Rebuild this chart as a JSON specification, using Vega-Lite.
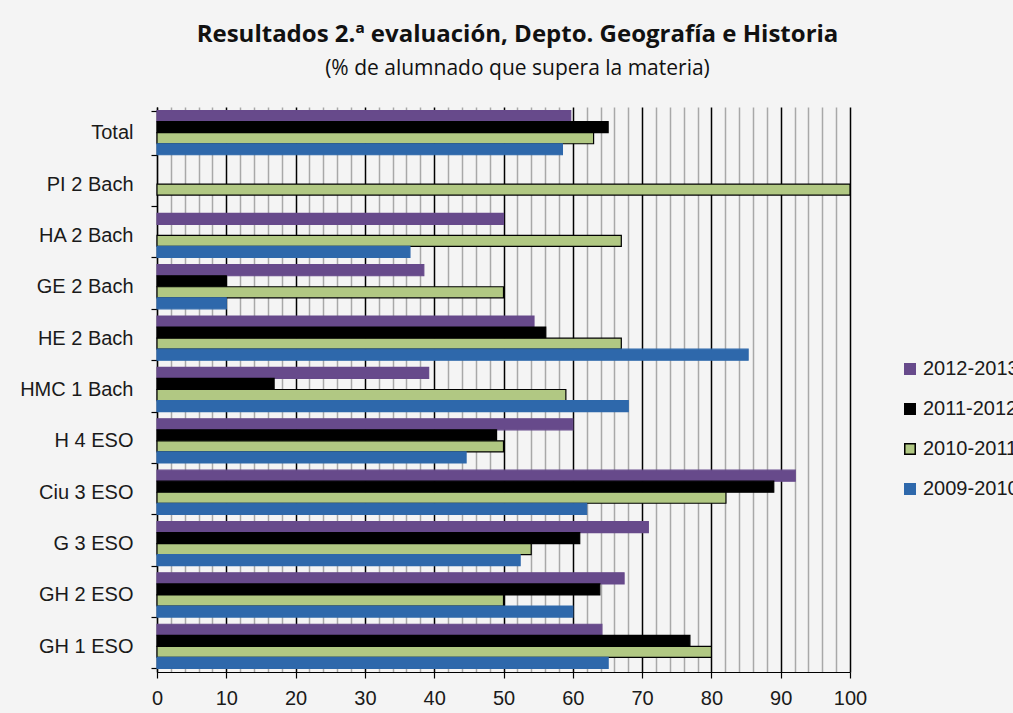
{
  "$schema": "https://vega.github.io/schema/vega-lite/v6.json",
  "autosize": "none",
  "width": 693,
  "height": 565,
  "padding": {"left": 157, "top": 107, "right": 163, "bottom": 41},
  "background": "#f4f4f4",
  "config": {"view": {"stroke": null}, "font": "Liberation Sans"},
  "title": {
    "text": "Resultados 2.ª  evaluación, Depto. Geografía e Historia",
    "subtitle": "(% de alumnado que supera la materia)",
    "anchor": "middle",
    "frame": "group",
    "dx": 14,
    "offset": 18,
    "font": "Open Sans",
    "fontSize": 24,
    "fontWeight": "bold",
    "color": "#111",
    "subtitleFont": "Open Sans",
    "subtitleFontSize": 21,
    "subtitleColor": "#111",
    "subtitlePadding": 11
  },
  "data": {
    "values": [
      {"cat": "Total", "serie": "2012-2013", "v": 59.7},
      {"cat": "Total", "serie": "2011-2012", "v": 65.1},
      {"cat": "Total", "serie": "2010-2011", "v": 63.0},
      {"cat": "Total", "serie": "2009-2010", "v": 58.5},
      {"cat": "PI 2 Bach", "serie": "2010-2011", "v": 100},
      {"cat": "HA 2 Bach", "serie": "2012-2013", "v": 50.0},
      {"cat": "HA 2 Bach", "serie": "2010-2011", "v": 67.0},
      {"cat": "HA 2 Bach", "serie": "2009-2010", "v": 36.5},
      {"cat": "GE 2 Bach", "serie": "2012-2013", "v": 38.5},
      {"cat": "GE 2 Bach", "serie": "2011-2012", "v": 10.0},
      {"cat": "GE 2 Bach", "serie": "2010-2011", "v": 50.0},
      {"cat": "GE 2 Bach", "serie": "2009-2010", "v": 10.0},
      {"cat": "HE 2 Bach", "serie": "2012-2013", "v": 54.4},
      {"cat": "HE 2 Bach", "serie": "2011-2012", "v": 56.1},
      {"cat": "HE 2 Bach", "serie": "2010-2011", "v": 67.0},
      {"cat": "HE 2 Bach", "serie": "2009-2010", "v": 85.3},
      {"cat": "HMC 1 Bach", "serie": "2012-2013", "v": 39.2},
      {"cat": "HMC 1 Bach", "serie": "2011-2012", "v": 16.9},
      {"cat": "HMC 1 Bach", "serie": "2010-2011", "v": 59.0},
      {"cat": "HMC 1 Bach", "serie": "2009-2010", "v": 68.0},
      {"cat": "H 4 ESO", "serie": "2012-2013", "v": 60.0},
      {"cat": "H 4 ESO", "serie": "2011-2012", "v": 49.0},
      {"cat": "H 4 ESO", "serie": "2010-2011", "v": 50.0},
      {"cat": "H 4 ESO", "serie": "2009-2010", "v": 44.6},
      {"cat": "Ciu 3 ESO", "serie": "2012-2013", "v": 92.1},
      {"cat": "Ciu 3 ESO", "serie": "2011-2012", "v": 89.0},
      {"cat": "Ciu 3 ESO", "serie": "2010-2011", "v": 82.1},
      {"cat": "Ciu 3 ESO", "serie": "2009-2010", "v": 62.0},
      {"cat": "G 3 ESO", "serie": "2012-2013", "v": 70.9},
      {"cat": "G 3 ESO", "serie": "2011-2012", "v": 61.0},
      {"cat": "G 3 ESO", "serie": "2010-2011", "v": 54.0},
      {"cat": "G 3 ESO", "serie": "2009-2010", "v": 52.4},
      {"cat": "GH 2 ESO", "serie": "2012-2013", "v": 67.4},
      {"cat": "GH 2 ESO", "serie": "2011-2012", "v": 63.9},
      {"cat": "GH 2 ESO", "serie": "2010-2011", "v": 50.0},
      {"cat": "GH 2 ESO", "serie": "2009-2010", "v": 60.0},
      {"cat": "GH 1 ESO", "serie": "2012-2013", "v": 64.2},
      {"cat": "GH 1 ESO", "serie": "2011-2012", "v": 76.9},
      {"cat": "GH 1 ESO", "serie": "2010-2011", "v": 80.0},
      {"cat": "GH 1 ESO", "serie": "2009-2010", "v": 65.1}
    ]
  },
  "mark": {"type": "bar", "strokeWidth": 1.2},
  "encoding": {
    "y": {
      "field": "cat",
      "type": "nominal",
      "sort": ["Total", "PI 2 Bach", "HA 2 Bach", "GE 2 Bach", "HE 2 Bach", "HMC 1 Bach", "H 4 ESO", "Ciu 3 ESO", "G 3 ESO", "GH 2 ESO", "GH 1 ESO"],
      "scale": {"paddingInner": 0.14, "paddingOuter": 0.07},
      "axis": {
        "title": null,
        "tickBand": "extent",
        "domainColor": "#000",
        "domainWidth": 1.2,
        "tickColor": "#000",
        "tickWidth": 1.2,
        "tickSize": 6,
        "labelFont": "Liberation Sans",
        "labelFontSize": 20,
        "labelColor": "#1a1a1a",
        "labelPadding": 18
      }
    },
    "yOffset": {
      "field": "serie",
      "type": "nominal",
      "sort": ["2012-2013", "2011-2012", "2010-2011", "2009-2010"],
      "scale": {"paddingInner": 0, "paddingOuter": 0}
    },
    "x": {
      "field": "v",
      "type": "quantitative",
      "scale": {"domain": [0, 100], "nice": false},
      "axis": {
        "title": null,
        "values": [0,2,4,6,8,10,12,14,16,18,20,22,24,26,28,30,32,34,36,38,40,42,44,46,48,50,52,54,56,58,60,62,64,66,68,70,72,74,76,78,80,82,84,86,88,90,92,94,96,98,100],
        "labelExpr": "datum.value % 10 === 0 ? datum.label : ''",
        "grid": true,
        "gridColor": {"condition": {"test": "datum.value % 10 === 0", "value": "#000"}, "value": "#a8a8a8"},
        "gridWidth": 1.5,
        "gridOpacity": 1,
        "domainColor": "#000",
        "domainWidth": 1.2,
        "tickColor": {"condition": {"test": "datum.value % 10 === 0", "value": "#000"}, "value": "transparent"},
        "tickWidth": 1.2,
        "tickSize": 6,
        "labelFont": "Liberation Sans",
        "labelFontSize": 20,
        "labelColor": "#1a1a1a",
        "labelPadding": 10,
        "labelFlush": false,
        "labelOverlap": false
      }
    },
    "color": {
      "field": "serie",
      "type": "nominal",
      "sort": ["2012-2013", "2011-2012", "2010-2011", "2009-2010"],
      "scale": {"domain": ["2012-2013", "2011-2012", "2010-2011", "2009-2010"], "range": ["#674a8b", "#000000", "#b1c883", "#2e68ab"]},
      "legend": {
        "title": null,
        "orient": "none",
        "legendX": 743,
        "legendY": 252,
        "symbolType": "square",
        "symbolSize": 110,
        "symbolStrokeWidth": 1.5,
        "labelFont": "Liberation Sans",
        "labelFontSize": 20,
        "labelColor": "#1a1a1a",
        "rowPadding": 20,
        "labelOffset": 3,
        "labelLimit": 0
      }
    },
    "stroke": {
      "field": "serie",
      "type": "nominal",
      "sort": ["2012-2013", "2011-2012", "2010-2011", "2009-2010"],
      "scale": {"domain": ["2012-2013", "2011-2012", "2010-2011", "2009-2010"], "range": ["#674a8b", "#000000", "#000000", "#2e68ab"]},
      "legend": null
    }
  }
}
